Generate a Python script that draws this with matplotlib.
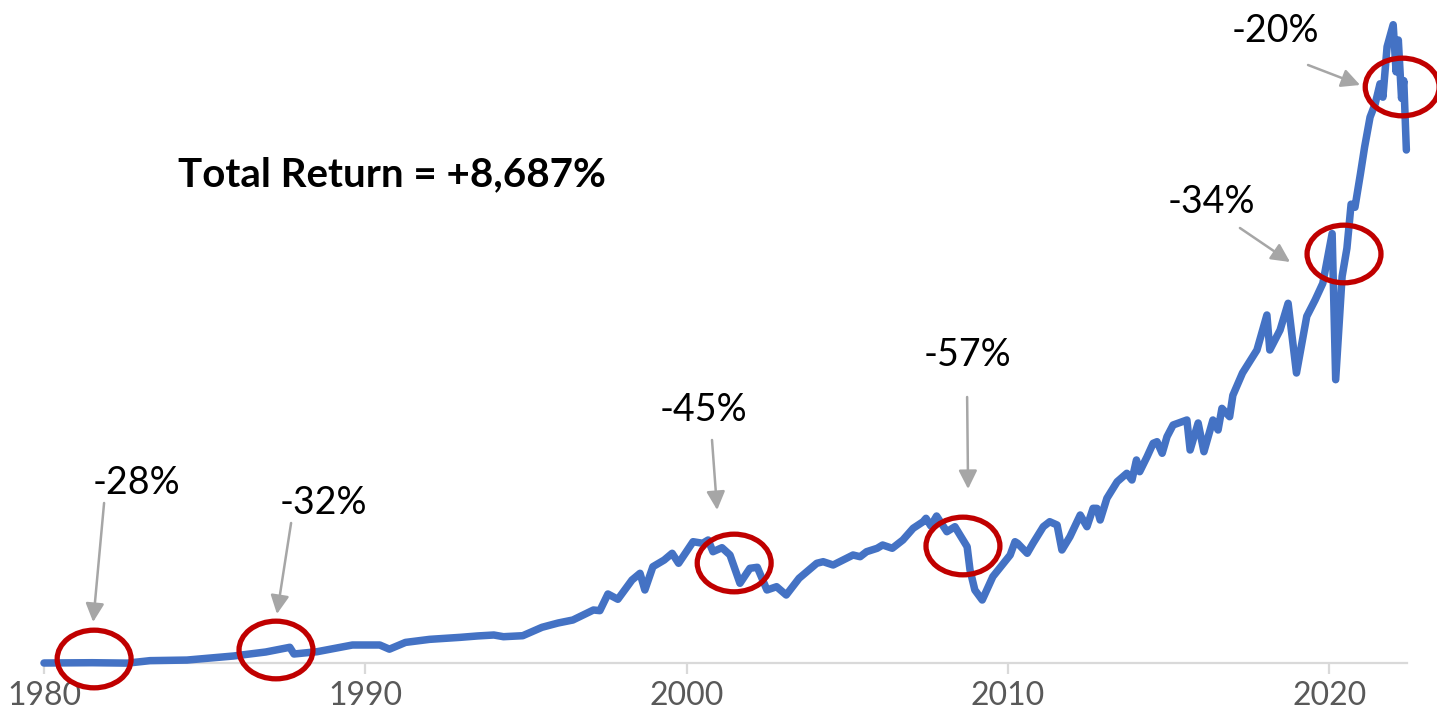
import matplotlib.pyplot as plt
from matplotlib.patches import Ellipse

# S&P 500 total return index (1980 = 100)
years = [1980.00, 1980.60, 1981.50, 1982.60, 1983.30, 1984.45, 1985.20, 1985.90,
         1986.90, 1987.65, 1987.78, 1988.50, 1989.60, 1990.45, 1990.75, 1991.25,
         1992.00, 1992.95, 1993.50, 1994.00, 1994.30, 1994.90, 1995.50, 1996.00,
         1996.46, 1997.10, 1997.30, 1997.55, 1997.86, 1998.30, 1998.55, 1998.70,
         1998.95, 1999.30, 1999.55, 1999.75, 2000.20, 2000.50, 2000.67, 2000.82,
         2001.10, 2001.35, 2001.66, 2001.97, 2002.20, 2002.50, 2002.80, 2003.10,
         2003.50, 2004.05, 2004.25, 2004.56, 2004.87, 2005.18, 2005.40, 2005.60,
         2005.93, 2006.10, 2006.40, 2006.73, 2007.05, 2007.36, 2007.45, 2007.60,
         2007.78, 2008.10, 2008.35, 2008.73, 2008.82, 2008.97, 2009.20, 2009.53,
         2010.07, 2010.22, 2010.30, 2010.60, 2010.78, 2011.10, 2011.30, 2011.53,
         2011.68, 2011.93, 2012.25, 2012.46, 2012.65, 2012.77, 2012.87, 2013.08,
         2013.40, 2013.70, 2013.86, 2014.00, 2014.10, 2014.33, 2014.52, 2014.64,
         2014.80, 2014.95, 2015.14, 2015.57, 2015.67, 2015.92, 2016.10, 2016.38,
         2016.54, 2016.66, 2016.90, 2017.00, 2017.30, 2017.75, 2018.06, 2018.15,
         2018.47, 2018.72, 2018.98, 2019.30, 2019.56, 2019.80, 2020.09, 2020.20,
         2020.40, 2020.55, 2020.68, 2020.80, 2020.97, 2021.10, 2021.27, 2021.43,
         2021.58, 2021.67, 2021.80, 2021.99, 2022.08, 2022.15, 2022.25, 2022.32,
         2022.40]
index = [100, 102, 105, 98, 140, 150, 185, 219,
         287, 367, 253, 292, 406, 406, 335, 450,
         502, 536, 560, 576, 547, 564, 707, 780,
         831, 1001, 990, 1273, 1183, 1511, 1625, 1341,
         1737, 1850, 1965, 1795, 2162, 2135, 2191, 1992,
         2060, 1936, 1455, 1710, 1727, 1341, 1397, 1256,
         1540, 1795, 1822, 1766, 1851, 1936, 1907, 1992,
         2050, 2106, 2050, 2191, 2390, 2502, 2560, 2430,
         2599, 2332, 2417, 2077, 1681, 1341, 1171, 1568,
         1936, 2162, 2135, 1965, 2135, 2417, 2502, 2446,
         2021, 2247, 2616, 2417, 2730, 2729, 2531, 2900,
         3182, 3325, 3211, 3551, 3352, 3607, 3835, 3862,
         3665, 3947, 4146, 4231, 3721, 4180, 3692, 4231,
         4061, 4429, 4287, 4650, 5030, 5421, 6016, 5421,
         5761, 6215, 5030, 5993, 6271, 6555, 7400, 4916,
         6669, 7150, 7900, 7847, 8414, 8869, 9379, 9606,
         9946, 9719, 10576, 10951, 10150, 10691, 9700, 10000,
         8821]

# drawdowns: label, label pos, arrow tail, arrow tip, circle centre
dd_labels = ['-28%', '-32%', '-45%', '-57%', '-34%', '-20%']
label_pos = [(1982.89, 3160), (1988.68, 2820), (2000.51, 4401),
             (2008.73, 5336), (2016.32, 7937), (2018.31, 10844)]
arrow_from = [(1981.87, 2820), (1987.69, 2480), (2000.79, 3891),
              (2008.73, 4622), (2017.22, 7495), (2019.34, 10266)]
arrow_to = [(1981.53, 797), (1987.25, 933), (2000.95, 2701),
            (2008.76, 3058), (2018.78, 6917), (2020.96, 9926)]
circles = [(1981.56, 168), (1987.22, 321), (2001.48, 1800),
           (2008.60, 2089), (2020.46, 7053), (2022.27, 9892)]

xticks = [1980, 1990, 2000, 2010, 2020]

fig = plt.figure(figsize=(14.37, 7.19), dpi=100)
ax = fig.add_axes([44/1437, 56/719, 1363/1437, 653/719])

ax.plot(years, index, color='#4472C4', lw=5.4, solid_joinstyle='round',
        solid_capstyle='round', clip_on=False, zorder=3)

for (cx, cy) in circles:
    ax.add_patch(Ellipse((cx, cy), 2.3, 980, fill=False, ec='#C00000',
                         lw=3.8, clip_on=False, zorder=4))

for lab, lp, a0, a1 in zip(dd_labels, label_pos, arrow_from, arrow_to):
    ax.text(lp[0], lp[1], lab, fontsize=27, family='Lato',
            ha='center', va='center', color='black')
    ax.annotate('', xy=a1, xytext=a0,
                arrowprops=dict(arrowstyle='-|>', color='#A6A6A6', lw=1.8,
                                mutation_scale=28, shrinkA=0, shrinkB=0))

ax.text(1990.83, 8396, 'Total Return = +8,687%', fontsize=29, family='Lato',
        fontweight='bold', ha='center', va='center', color='black')

ax.set_xlim(1980, 2022.42)
ax.set_ylim(100, 11201)
ax.set_xticks(xticks)
ax.set_yticks([])
for s in ['top', 'right', 'left']:
    ax.spines[s].set_visible(False)
ax.spines['bottom'].set_color('#D9D9D9')
ax.spines['bottom'].set_linewidth(1.6)
ax.tick_params(axis='x', colors='#D9D9D9', length=8, width=1.6, pad=5)
for t in ax.get_xticklabels():
    t.set_color('#595959')
    t.set_fontsize(23)
    t.set_family('Lato')

fig.savefig('out.png', dpi=100)
